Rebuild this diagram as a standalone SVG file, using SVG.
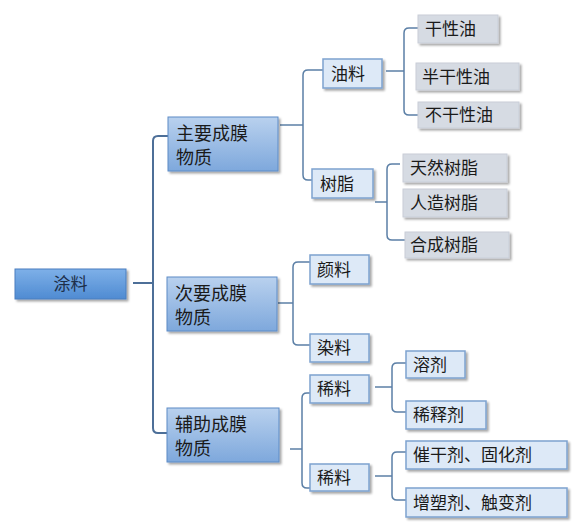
<svg xmlns="http://www.w3.org/2000/svg" width="581" height="528" viewBox="0 0 581 528">
<defs>
<linearGradient id="g1" x1="0" y1="0" x2="0" y2="1">
<stop offset="0" stop-color="#7eb0e8"/>
<stop offset="1" stop-color="#4f8bd2"/>
</linearGradient>
<linearGradient id="g2" x1="0" y1="0" x2="0" y2="1">
<stop offset="0" stop-color="#b9d1ee"/>
<stop offset="1" stop-color="#7ea8dc"/>
</linearGradient>
<filter id="sh" x="-10%" y="-10%" width="130%" height="140%">
<feDropShadow dx="2" dy="2" stdDeviation="1.2" flood-color="#000" flood-opacity="0.35"/>
</filter>
<style>
text{font-family:"Noto Sans CJK SC","Noto Sans",sans-serif;fill:#1a1a1a}
.l1{fill:url(#g1);stroke:#4a7fbf;stroke-width:1;filter:url(#sh)}
.l2{fill:url(#g2);stroke:#5d8cc6;stroke-width:1;filter:url(#sh)}
.l3{fill:#dde9f7;stroke:#7da2cf;stroke-width:1.5;filter:url(#sh)}
.l4{fill:#d6dbe3;stroke:#c9ced8;stroke-width:1;filter:url(#sh)}
.t18{font-size:18px}
.t17{font-size:17px}
.c{fill:none;stroke:#5b7fa6;stroke-width:1.5}
.ct{fill:none;stroke:#4d6f98;stroke-width:2}
</style>
</defs>
<g id="connectors">
<path class="ct" d="M133,283 H153"/>
<path class="ct" d="M168,136 H158 Q153,136 153,141 V428 Q153,433 158,433 H168"/>
<path class="c" d="M280,125 H303"/>
<path class="c" d="M323,70 H308 Q303,70 303,75 V175 Q303,180 308,180 H312"/>
<path class="c" d="M386,71 H404"/>
<path class="c" d="M418,28 H409 Q404,28 404,33 V110 Q404,115 409,115 H418"/>
<path class="c" d="M375,202 H387"/>
<path class="c" d="M400,164 H392 Q387,164 387,169 V235 Q387,240 392,240 H405"/>
<path class="c" d="M278,303 H293"/>
<path class="c" d="M310,262 H298 Q293,262 293,267 V340 Q293,345 298,345 H310"/>
<path class="c" d="M290,449 H302"/>
<path class="c" d="M310,393 H307 Q302,393 302,398 V483 Q302,488 307,488 H310"/>
<path class="c" d="M375,387 H392"/>
<path class="c" d="M406,363 H397 Q392,363 392,368 V407 Q392,412 397,412 H406"/>
<path class="c" d="M375,476 H392"/>
<path class="c" d="M406,452 H397 Q392,452 392,457 V495 Q392,500 397,500 H406"/>
</g>
<g id="n-tuliao"><rect class="l1" x="15" y="269" width="111" height="30"/><text class="t17" x="70.5" y="290" text-anchor="middle" style="fill:#1d2f4a">涂料</text></g>
<g id="n-zhuyao"><rect class="l2" x="168" y="117" width="110" height="54"/><text class="t18" x="176" y="140">主要成膜</text><text class="t18" x="176" y="164">物质</text></g>
<g id="n-ciyao"><rect class="l2" x="167" y="277" width="110" height="54"/><text class="t18" x="175" y="300">次要成膜</text><text class="t18" x="175" y="324">物质</text></g>
<g id="n-fuzhu"><rect class="l2" x="167" y="408" width="112" height="54"/><text class="t18" x="175" y="431">辅助成膜</text><text class="t18" x="175" y="455">物质</text></g>
<g id="n-youliao"><rect class="l3" x="323" y="59" width="59" height="29"/><text class="t17" x="331" y="80">油料</text></g>
<g id="n-shuzhi"><rect class="l3" x="312" y="169" width="61" height="29"/><text class="t17" x="320" y="190">树脂</text></g>
<g id="n-ganxingyou"><rect class="l4" x="418" y="15" width="80" height="28"/><text class="t17" x="425" y="35">干性油</text></g>
<g id="n-banganxingyou"><rect class="l4" x="416" y="63" width="103" height="27"/><text class="t17" x="422" y="83">半干性油</text></g>
<g id="n-buganxingyou"><rect class="l4" x="418" y="102" width="101" height="26"/><text class="t17" x="425" y="121">不干性油</text></g>
<g id="n-tianran"><rect class="l4" x="403" y="154" width="104" height="28"/><text class="t17" x="410" y="174">天然树脂</text></g>
<g id="n-renzao"><rect class="l4" x="403" y="189" width="104" height="28"/><text class="t17" x="410" y="209">人造树脂</text></g>
<g id="n-hecheng"><rect class="l4" x="405" y="232" width="104" height="26"/><text class="t17" x="410" y="251">合成树脂</text></g>
<g id="n-yanliao"><rect class="l3" x="310" y="255" width="59" height="29"/><text class="t17" x="317" y="276">颜料</text></g>
<g id="n-ranliao"><rect class="l3" x="310" y="334" width="59" height="28"/><text class="t17" x="317" y="354">染料</text></g>
<g id="n-xiliao1"><rect class="l3" x="310" y="375" width="59" height="28"/><text class="t17" x="317" y="395">稀料</text></g>
<g id="n-xiliao2"><rect class="l3" x="310" y="464" width="59" height="27"/><text class="t17" x="317" y="484">稀料</text></g>
<g id="n-rongji"><rect class="l3" x="406" y="351" width="59" height="27"/><text class="t17" x="413" y="371">溶剂</text></g>
<g id="n-xishiji"><rect class="l3" x="406" y="401" width="80" height="28"/><text class="t17" x="413" y="421">稀释剂</text></g>
<g id="n-cuiganji"><rect class="l3" x="406" y="441" width="161" height="28"/><text class="t17" x="413" y="461">催干剂、固化剂</text></g>
<g id="n-zengsuji"><rect class="l3" x="406" y="488" width="161" height="29"/><text class="t17" x="413" y="509">增塑剂、触变剂</text></g>
</svg>
